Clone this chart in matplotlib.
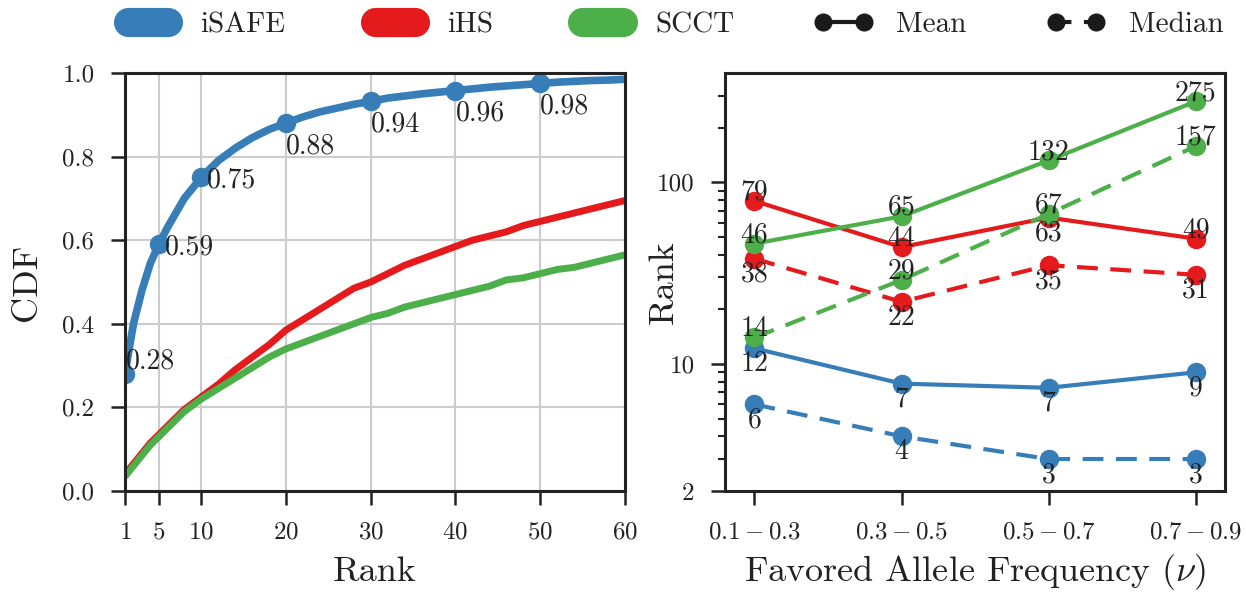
import matplotlib
matplotlib.use('Agg')
import matplotlib.pyplot as plt
from matplotlib.lines import Line2D
from matplotlib.ticker import FixedLocator, NullFormatter, FuncFormatter

plt.rcParams['font.family'] = 'serif'
plt.rcParams['font.serif'] = ['cmr10']
plt.rcParams['mathtext.fontset'] = 'cm'
plt.rcParams['axes.formatter.use_mathtext'] = True
plt.rcParams['text.color'] = '#222222'
plt.rcParams['axes.labelcolor'] = '#222222'

BLUE, RED, GREEN = '#377eb8', '#e41a1c', '#4daf4a'
INK = '#222222'

# ---- left panel: CDF of rank ----
ranks = [1, 2, 3, 4, 5, 6, 7, 8, 9, 10, 12, 14, 16, 18, 20, 22, 24, 26, 28, 30,
         32, 34, 36, 38, 40, 42, 44, 46, 48, 50, 52, 54, 56, 58, 60]
isafe_cdf = [0.28, 0.40, 0.48, 0.545, 0.59, 0.63, 0.665, 0.70, 0.725, 0.75,
             0.79, 0.82, 0.845, 0.865, 0.88, 0.895, 0.907, 0.916, 0.925, 0.932,
             0.94, 0.945, 0.95, 0.954, 0.958, 0.962, 0.966, 0.969, 0.972, 0.975,
             0.978, 0.98, 0.982, 0.983, 0.985]
ihs_cdf = [0.04, 0.065, 0.09, 0.115, 0.135, 0.155, 0.175, 0.195, 0.21, 0.225,
           0.255, 0.29, 0.32, 0.35, 0.385, 0.41, 0.435, 0.46, 0.485, 0.50,
           0.52, 0.54, 0.555, 0.57, 0.585, 0.60, 0.61, 0.62, 0.635, 0.645,
           0.655, 0.665, 0.675, 0.685, 0.695]
scct_cdf = [0.035, 0.06, 0.085, 0.11, 0.13, 0.15, 0.17, 0.19, 0.205, 0.22,
            0.245, 0.27, 0.295, 0.32, 0.34, 0.355, 0.37, 0.385, 0.40, 0.415,
            0.425, 0.44, 0.45, 0.46, 0.47, 0.48, 0.49, 0.505, 0.51, 0.52,
            0.53, 0.535, 0.545, 0.555, 0.565]
mark_ranks = [1, 5, 10, 20, 30, 40, 50]
mark_labels = ['0.28', '0.59', '0.75', '0.88', '0.94', '0.96', '0.98']
rank_ticks = [1, 5, 10, 20, 30, 40, 50, 60]

# ---- right panel: rank by favored allele frequency ----
freq_bins = [r'$0.1-0.3$', r'$0.3-0.5$', r'$0.5-0.7$', r'$0.7-0.9$']
isafe_mean = [12.2, 7.8, 7.4, 9.0]
isafe_median = [6, 4, 3, 3]
ihs_mean = [79, 44, 64, 49]
ihs_median = [38, 22, 35, 31]
scct_mean = [46, 65, 132, 279]
scct_median = [14, 29, 67, 158]
ihs_mean_labels = [79, 44, 63, 49]
scct_mean_labels = [46, 65, 132, 275]
scct_median_labels = [14, 29, 67, 157]

fig = plt.figure(figsize=(12.46, 5.92), dpi=100)

ax1 = fig.add_axes([0.1003, 0.1706, 0.4013, 0.7061])
ax1.plot(ranks, ihs_cdf, color=RED, lw=5, solid_capstyle='round')
ax1.plot(ranks, scct_cdf, color=GREEN, lw=5, solid_capstyle='round')
ax1.plot(ranks, isafe_cdf, color=BLUE, lw=5.5, solid_capstyle='round')
for r, lab in zip(mark_ranks, mark_labels):
    y = isafe_cdf[ranks.index(r)]
    ax1.plot(r, y, 'o', color=BLUE, ms=13)
    if r == 1:
        ax1.annotate(lab, (r, y), xytext=(1, 4), textcoords='offset points',
                     ha='left', va='baseline', fontsize=20)
    elif r <= 10:
        ax1.annotate(lab, (r, y), xytext=(4, -2), textcoords='offset points',
                     ha='left', va='center', fontsize=20)
    else:
        ax1.annotate(lab, (r, y), xytext=(0, -7), textcoords='offset points',
                     ha='left', va='top', fontsize=20)
ax1.set_xlim(1, 60)
ax1.set_ylim(0, 1)
ax1.set_xticks(rank_ticks)
ax1.set_yticks([0, 0.2, 0.4, 0.6, 0.8, 1.0])
ax1.yaxis.set_major_formatter(FuncFormatter(lambda v, _: f'{v:.1f}'))
ax1.grid(True, color='#cccccc', lw=1.5)
ax1.set_axisbelow(True)
ax1.set_xlabel('Rank', fontsize=26, labelpad=9)
ax1.set_ylabel('CDF', fontsize=26)
ax1.yaxis.set_label_coords(-0.164, 0.5)

ax2 = fig.add_axes([0.5819, 0.1706, 0.4013, 0.7061])
xs = range(len(freq_bins))
series = [
    (isafe_mean, [int(v) for v in isafe_mean], BLUE, '-', ['below'] * 4),
    (isafe_median, isafe_median, BLUE, (0, (5, 3)), ['below'] * 4),
    (ihs_mean, ihs_mean_labels, RED, '-', ['above', 'above', 'below', 'above']),
    (ihs_median, ihs_median, RED, (0, (5, 3)), ['below'] * 4),
    (scct_mean, scct_mean_labels, GREEN, '-', ['above'] * 4),
    (scct_median, scct_median_labels, GREEN, (0, (5, 3)), ['above'] * 4),
]
for vals, labs, col, ls, sides in series:
    ax2.plot(xs, vals, color=col, ls=ls, lw=3, marker='o', ms=13)
    for x, v, lab, side in zip(xs, vals, labs, sides):
        if side == 'above':
            ax2.annotate(str(lab), (x, v), xytext=(0, 1), textcoords='offset points',
                         ha='center', va='baseline', fontsize=20)
        else:
            ax2.annotate(str(lab), (x, v), xytext=(0, -2), textcoords='offset points',
                         ha='center', va='top', fontsize=20)
ax2.set_yscale('log')
ax2.set_ylim(2, 400)
ax2.set_xlim(-0.2, 3.2)
ax2.yaxis.set_major_locator(FixedLocator([2, 10, 100]))
ax2.yaxis.set_major_formatter(FuncFormatter(lambda v, _: f'{v:g}'))
ax2.yaxis.set_minor_locator(FixedLocator([3, 4, 5, 6, 7, 8, 9, 20, 30, 40, 50, 60, 70, 80, 90, 200, 300]))
ax2.yaxis.set_minor_formatter(NullFormatter())
ax2.set_xticks(list(xs))
ax2.set_xticklabels(freq_bins)
ax2.set_xlabel(r'Favored Allele Frequency $(\nu)$', fontsize=26, labelpad=6)
ax2.set_ylabel('Rank', fontsize=26)
ax2.yaxis.set_label_coords(-0.09, 0.5)

for ax in (ax1, ax2):
    for s in ax.spines.values():
        s.set_linewidth(2.2)
        s.set_color(INK)
    ax.tick_params(which='major', direction='out', length=10, width=1.8,
                   pad=12, labelsize=18, colors=INK)
    ax.tick_params(which='minor', direction='out', length=5, width=1.5, colors=INK)

handles = [
    Line2D([], [], color=BLUE, lw=21, solid_capstyle='round'),
    Line2D([], [], color=RED, lw=21, solid_capstyle='round'),
    Line2D([], [], color=GREEN, lw=21, solid_capstyle='round'),
    Line2D([], [], color='#1a1a1a', lw=3, marker='o', ms=12),
    Line2D([], [], color='#1a1a1a', lw=3, ls=(1.3, (5, 3)), marker='o', ms=12),
]
fig.legend(handles, ['iSAFE', 'iHS', 'SCCT', 'Mean', 'Median'], loc='center',
           bbox_to_anchor=(0.5385, 0.958), ncol=5, frameon=False, fontsize=21,
           handlelength=2, handletextpad=0.8, columnspacing=2.75, numpoints=2)

fig.savefig('out.png', dpi=100)
